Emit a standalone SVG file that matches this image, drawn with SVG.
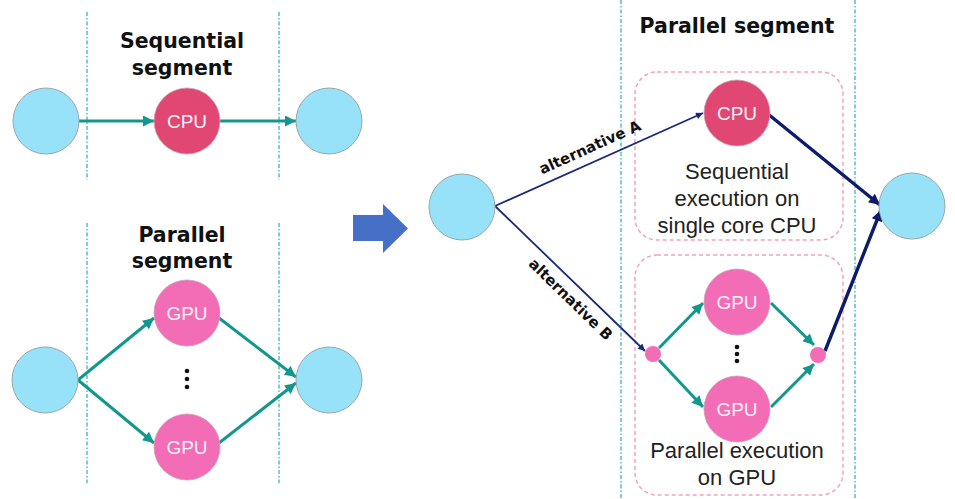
<svg xmlns="http://www.w3.org/2000/svg" width="955" height="499" viewBox="0 0 955 499">
  <style>
    .bound { stroke: #5ec3c6; stroke-width: 1.6; stroke-dasharray: 4 2 1.5 2; fill: none; }
    .box { stroke: #f4a0c2; stroke-width: 1.5; stroke-dasharray: 4 3; fill: none; }
    .task { fill: #97e2f9; stroke: #9aa6aa; stroke-width: 1; }
    .cpu { fill: #e04873; stroke: #c9a0b0; stroke-width: 0.8; }
    .gpu { fill: #f26cb6; stroke: #c9a0b8; stroke-width: 0.8; }
    .join { fill: #f26cb6; }
    .teal { stroke: #12978f; stroke-width: 3; fill: none; marker-end: url(#ah-teal); }
    .thin { stroke: #1b2a78; stroke-width: 1.8; fill: none; marker-end: url(#ah-thin); }
    .thick { stroke: #0c1c6a; stroke-width: 3.4; fill: none; marker-end: url(#ah-thick); }
    .unit { font-family: "Liberation Sans", Arial, sans-serif; font-size: 19px; fill: #fff2f8; text-anchor: middle; }
    .head { font-family: "DejaVu Sans", Verdana, sans-serif; font-weight: bold; font-size: 20.5px; fill: #111; text-anchor: middle; }
    .alt { font-family: "DejaVu Sans", Verdana, sans-serif; font-weight: bold; font-size: 15px; fill: #111; text-anchor: middle; }
    .note { font-family: "Liberation Sans", Arial, sans-serif; font-size: 22px; fill: #222; text-anchor: middle; }
    .dots { fill: #111; }
  </style>
  <defs>
    <marker id="ah-teal" viewBox="0 0 10 10" refX="10" refY="5" markerWidth="12" markerHeight="11" markerUnits="userSpaceOnUse" orient="auto">
      <path d="M0,0 L10,5 L0,10 Z" fill="#12978f"/>
    </marker>
    <marker id="ah-thin" viewBox="0 0 10 10" refX="10" refY="5" markerWidth="9" markerHeight="7" markerUnits="userSpaceOnUse" orient="auto">
      <path d="M0,0 L10,5 L0,10 Z" fill="#1b2a78"/>
    </marker>
    <marker id="ah-thick" viewBox="0 0 10 10" refX="10" refY="5" markerWidth="12" markerHeight="11" markerUnits="userSpaceOnUse" orient="auto">
      <path d="M0,0 L10,5 L0,10 Z" fill="#0c1c6a"/>
    </marker>
  </defs>

  <rect width="955" height="499" fill="#ffffff"/>

  <!-- segment boundaries -->
  <g id="boundaries">
    <line class="bound" x1="87" y1="12" x2="87" y2="180"/>
    <line class="bound" x1="279" y1="12" x2="279" y2="180"/>
    <line class="bound" x1="87" y1="223" x2="87" y2="483"/>
    <line class="bound" x1="279" y1="223" x2="279" y2="483"/>
    <line class="bound" x1="621" y1="0" x2="621" y2="499"/>
    <line class="bound" x1="855" y1="0" x2="855" y2="499"/>
  </g>

  <!-- execution alternatives -->
  <g id="box-cpu">
    <rect class="box" x="635" y="72" width="208" height="168" rx="22"/>
    <text class="note" x="737" y="179">Sequential</text>
    <text class="note" x="737" y="206">execution on</text>
    <text class="note" x="737" y="233">single core CPU</text>
  </g>
  <g id="box-gpu">
    <rect class="box" x="635" y="255" width="208" height="240" rx="22"/>
    <text class="note" x="737" y="458">Parallel execution</text>
    <text class="note" x="737" y="485">on GPU</text>
  </g>

  <!-- headings -->
  <g id="titles">
    <text class="head" x="182" y="48">Sequential</text>
    <text class="head" x="182" y="75">segment</text>
    <text class="head" x="182" y="242">Parallel</text>
    <text class="head" x="182" y="268">segment</text>
    <text class="head" x="737" y="33">Parallel segment</text>
  </g>

  <!-- transformation arrow -->
  <g id="transform">
    <path d="M353,215 H383 V204 L408,228.5 L383,253 V241 H353 Z" fill="#4670c8"/>
  </g>

  <!-- connectors -->
  <g id="connectors">
    <line class="teal" x1="79" y1="121" x2="154" y2="121"/>
    <line class="teal" x1="220" y1="121" x2="296" y2="121"/>

    <line class="teal" x1="78" y1="380" x2="154" y2="318"/>
    <line class="teal" x1="78" y1="380" x2="154" y2="443"/>
    <line class="teal" x1="219" y1="318" x2="296" y2="377"/>
    <line class="teal" x1="219" y1="443" x2="296" y2="383"/>

    <line class="thin" x1="495" y1="206" x2="703" y2="113"/>
    <line class="thin" x1="495" y1="206" x2="645" y2="351"/>

    <line class="teal" x1="659" y1="348" x2="703" y2="303"/>
    <line class="teal" x1="659" y1="360" x2="703" y2="407"/>
    <line class="teal" x1="771" y1="303" x2="814" y2="345"/>
    <line class="teal" x1="771" y1="407" x2="814" y2="364"/>

    <line class="thick" x1="768" y1="114" x2="880" y2="205"/>
    <line class="thick" x1="825" y1="351" x2="881" y2="210"/>

    <text class="alt" transform="translate(592,152) rotate(-24.3)">alternative A</text>
    <text class="alt" transform="translate(567,303) rotate(44.2)">alternative B</text>
  </g>

  <!-- sequential segment -->
  <g id="seq-in"><circle class="task" cx="46" cy="121" r="33"/></g>
  <g id="seq-cpu"><circle class="cpu" cx="187" cy="121" r="33"/><text class="unit" x="187" y="128">CPU</text></g>
  <g id="seq-out"><circle class="task" cx="329" cy="121" r="33"/></g>

  <!-- parallel segment -->
  <g id="par-in"><circle class="task" cx="45" cy="380" r="33"/></g>
  <g id="par-gpu-1"><circle class="gpu" cx="187" cy="313" r="33"/><text class="unit" x="187" y="320">GPU</text></g>
  <g id="par-more">
    <circle class="dots" cx="187" cy="371" r="2.3"/>
    <circle class="dots" cx="187" cy="379" r="2.3"/>
    <circle class="dots" cx="187" cy="387" r="2.3"/>
  </g>
  <g id="par-gpu-n"><circle class="gpu" cx="187" cy="447" r="33"/><text class="unit" x="187" y="454">GPU</text></g>
  <g id="par-out"><circle class="task" cx="329" cy="380" r="33"/></g>

  <!-- alternatives graph -->
  <g id="alt-in"><circle class="task" cx="462" cy="207" r="33"/></g>
  <g id="alt-cpu"><circle class="cpu" cx="737" cy="113" r="33"/><text class="unit" x="737" y="120">CPU</text></g>
  <g id="alt-fork"><circle class="join" cx="653" cy="354" r="8"/></g>
  <g id="alt-gpu-1"><circle class="gpu" cx="737" cy="302" r="33"/><text class="unit" x="737" y="309">GPU</text></g>
  <g id="alt-more">
    <circle class="dots" cx="737" cy="347" r="2.3"/>
    <circle class="dots" cx="737" cy="354" r="2.3"/>
    <circle class="dots" cx="737" cy="361" r="2.3"/>
  </g>
  <g id="alt-gpu-n"><circle class="gpu" cx="737" cy="409" r="33"/><text class="unit" x="737" y="416">GPU</text></g>
  <g id="alt-join"><circle class="join" cx="818" cy="355" r="8"/></g>
  <g id="alt-out"><circle class="task" cx="912" cy="206" r="33"/></g>
</svg>
